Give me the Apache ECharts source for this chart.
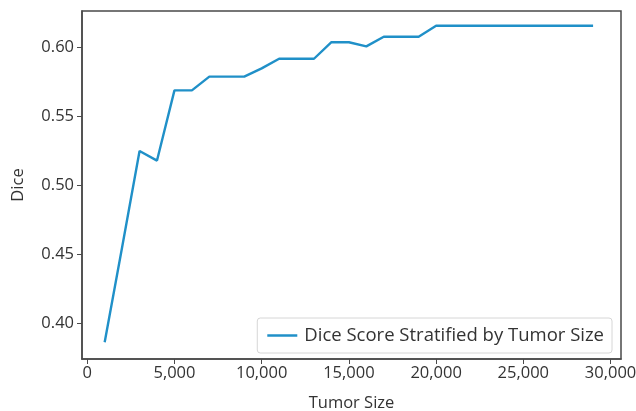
<!DOCTYPE html>
<html>
<head>
<meta charset="utf-8">
<script src="https://cdn.jsdelivr.net/npm/echarts@6/dist/echarts.min.js"></script>
<style>
  html, body { margin: 0; padding: 0; background: #fff; }
  #main { width: 636px; height: 411px; }
</style>
</head>
<body>
<div id="main"></div>
<script>
// tumor size (x) and dice score (y)
var tumorSize = [1000, 2000, 3000, 4000, 5000, 6000, 7000, 8000, 9000, 10000,
  11000, 12000, 13000, 14000, 15000, 16000, 17000, 18000, 19000, 20000,
  21000, 22000, 23000, 24000, 25000, 26000, 27000, 28000, 29000];
var diceScore = [0.386, 0.455, 0.525, 0.518, 0.569, 0.569, 0.579, 0.579, 0.579, 0.585,
  0.592, 0.592, 0.592, 0.604, 0.604, 0.601, 0.608, 0.608, 0.608, 0.616,
  0.616, 0.616, 0.616, 0.616, 0.616, 0.616, 0.616, 0.616, 0.616];
var xTicks = [0, 5000, 10000, 15000, 20000, 25000, 30000];
var yTicks = [0.40, 0.45, 0.50, 0.55, 0.60];
var seriesName = "Dice Score Stratified by Tumor Size";

var font = "'Open Sans', 'Noto Sans', sans-serif";
var lineColor = "#2090c8";
var frameColor = "#4a4a4a";

var chart = echarts.init(document.getElementById("main"));

var points = tumorSize.map(function (x, i) {
  return [x, diceScore[i]];
});

var option = {
  animation: false,
  backgroundColor: "#fff",
  grid: {
    left: 82,
    top: 11,
    right: 15,
    bottom: 52,
    show: true,
    borderColor: frameColor,
    borderWidth: 1.5,
    containLabel: false,
    outerBoundsMode: "none"
  },
  legend: {
    data: [seriesName],
    right: 24,
    bottom: 58,
    orient: "horizontal",
    icon: "rect",
    itemWidth: 30,
    itemHeight: 2.5,
    itemGap: 8,
    padding: [8, 8, 8, 10],
    borderColor: "#d6d6d6",
    borderWidth: 1,
    borderRadius: 3,
    backgroundColor: "#fff",
    textStyle: { fontFamily: font, fontSize: 18.5, color: "#333", padding: [0, 0, 0, 2] }
  },
  xAxis: {
    type: "value",
    min: -300,
    max: 30600,
    name: "Tumor Size",
    nameLocation: "middle",
    nameGap: 36,
    nameTextStyle: { fontFamily: font, fontSize: 16.5, color: "#333" },
    axisLine: { show: true, onZero: false, lineStyle: { color: frameColor, width: 1.5 } },
    axisTick: { show: true, length: 5, customValues: xTicks, lineStyle: { color: frameColor } },
    axisLabel: {
      customValues: xTicks,
      margin: 6,
      fontFamily: font,
      fontSize: 16.5,
      color: "#333",
      formatter: function (v) { return v.toLocaleString("en-US"); }
    },
    splitLine: { show: false }
  },
  yAxis: {
    type: "value",
    min: 0.3738,
    max: 0.6267,
    name: "Dice",
    nameLocation: "middle",
    nameRotate: 90,
    nameGap: 55,
    nameTextStyle: { fontFamily: font, fontSize: 16.5, color: "#333" },
    axisLine: { show: true, onZero: false, lineStyle: { color: frameColor, width: 1.5 } },
    axisTick: { show: true, length: 5, customValues: yTicks, lineStyle: { color: frameColor } },
    axisLabel: {
      customValues: yTicks,
      margin: 8,
      fontFamily: font,
      fontSize: 16.5,
      color: "#333",
      formatter: function (v) { return v.toFixed(2); }
    },
    splitLine: { show: false }
  },
  series: [
    {
      name: seriesName,
      type: "line",
      data: points,
      symbol: "none",
      lineStyle: { color: lineColor, width: 2.4 },
      itemStyle: { color: lineColor }
    }
  ]
};

chart.setOption(option);
</script>
</body>
</html>
